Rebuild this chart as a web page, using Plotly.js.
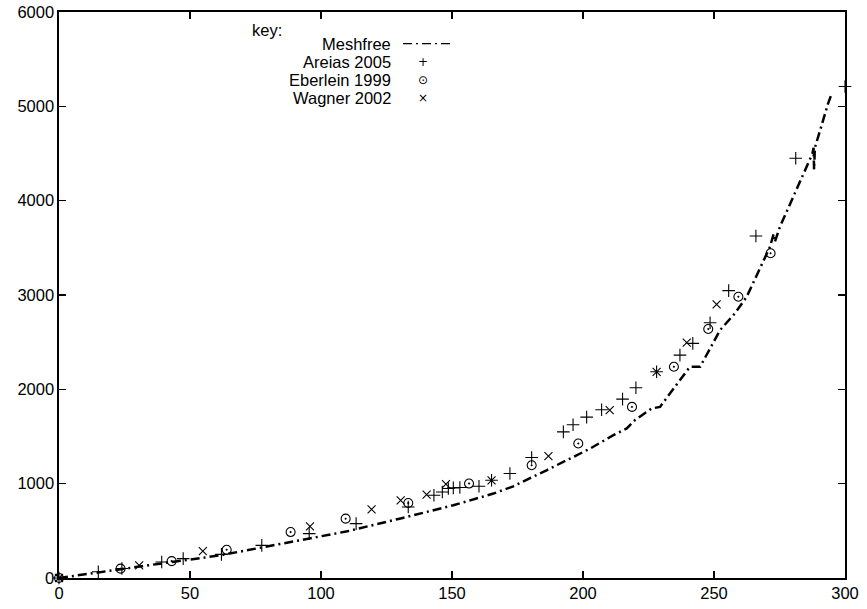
<!DOCTYPE html>
<html>
<head>
<meta charset="utf-8">
<script src="https://cdn.plot.ly/plotly-3.0.1.min.js"></script>
<style>html,body{margin:0;padding:0;background:#fff;}#chart{width:867px;height:609px;}</style>
</head>
<body>
<div id="chart"></div>
<script>
// Meshfree curve
const meshfreeX = [0, 15.6, 38.5, 61.5, 92, 110, 130, 150.5, 165.8, 173.4, 186.1, 197.6, 202.7, 211.6, 216.7, 219.8, 226.2, 229.4, 240.8, 244.7, 252.3, 258, 262.5, 271.4, 272.8, 273.2, 275.2, 287.6, 288, 288.2, 288.5, 293.6, 295];
const meshfreeY = [0, 63, 152, 240, 399, 495, 629, 771, 895, 972, 1142, 1301, 1372, 1514, 1585, 1673, 1797, 1814, 2239, 2239, 2627, 2806, 2982, 3513, 3650, 3560, 3725, 4500, 4560, 4330, 4560, 5035, 5141];

// Areias 2005
const areiasX = [0, 15, 24, 39.2, 47.4, 62, 77.4, 95.5, 113.4, 133.3, 143.1, 146.3, 148.6, 150.5, 153, 160.3, 165.1, 172.1, 180.4, 192.5, 196.2, 201.4, 207.1, 215.1, 220.2, 228.1, 237, 241.9, 248.5, 255.6, 266, 281.2, 300];
const areiasY = [0, 66, 100, 169, 205, 250, 346, 470, 576, 753, 877, 912, 948, 955, 959, 972, 1036, 1107, 1277, 1549, 1625, 1705, 1783, 1896, 2016, 2186, 2363, 2487, 2706, 3046, 3626, 4450, 5210];

// Eberlein 1999
const eberleinX = [0, 23.5, 43, 64, 88.4, 109.4, 133.3, 156.5, 180.4, 198.2, 218.7, 234.7, 247.8, 259.3, 271.6];
const eberleinY = [0, 99, 179, 300, 487, 629, 795, 1001, 1195, 1426, 1814, 2239, 2639, 2982, 3443];

// Wagner 2002
const wagnerX = [0, 30.6, 54.9, 95.8, 119.3, 130.4, 140.3, 147.7, 165.1, 186.8, 210.2, 228.1, 239.6, 251];
const wagnerY = [0, 134, 285, 548, 728, 824, 884, 994, 1036, 1291, 1779, 2186, 2494, 2901];

// tick values
const xTicks = [0, 50, 100, 150, 200, 250, 300];
const yTicks = [0, 1000, 2000, 3000, 4000, 5000, 6000];

const FONT = 'Liberation Sans, Arial, Helvetica, sans-serif';

const traces = [
  {x: meshfreeX, y: meshfreeY, mode: 'lines', name: 'Meshfree',
   line: {color: '#000', width: 2.5, dash: '9px,4px,2px,4px'}, cliponaxis: false},
  {x: areiasX, y: areiasY, mode: 'markers', name: 'Areias 2005',
   marker: {symbol: 'cross-thin', size: 9, color: '#000', line: {color: '#000', width: 1.1}}, cliponaxis: false},
  {x: eberleinX, y: eberleinY, mode: 'markers', name: 'Eberlein 1999',
   marker: {symbol: 'circle-open-dot', size: 9, color: '#000', line: {color: '#000', width: 1.1}}, cliponaxis: false},
  {x: wagnerX, y: wagnerY, mode: 'markers', name: 'Wagner 2002',
   marker: {symbol: 'x-thin', size: 8, color: '#000', line: {color: '#000', width: 1.1}}, cliponaxis: false}
];

const axisCommon = {
  showgrid: false, zeroline: false, showline: true, mirror: 'ticks',
  linecolor: '#000', linewidth: 1.6, ticks: 'inside', ticklen: 7, tickwidth: 1.2, tickcolor: '#000',
  tickfont: {family: FONT, size: 16.5, color: '#000'}
};

// legend drawn gnuplot-style: right-aligned labels followed by sample
const legendLabels = ['Meshfree', 'Areias 2005', 'Eberlein 1999', 'Wagner 2002'];
const legendSymbols = [null, '+', '\u2299', '\u00D7'];
const annotations = [{
  xref: 'paper', yref: 'paper', x: (250 - 59) / 786, y: (578 - 30) / 565.5,
  xanchor: 'left', yanchor: 'middle', text: 'key:', showarrow: false,
  font: {family: FONT, size: 16.5, color: '#000'}
}];
const shapes = [];
legendLabels.forEach((lab, i) => {
  const py = 44 + i * 18;
  annotations.push({
    xref: 'paper', yref: 'paper', x: (393 - 59) / 786, y: (578 - py) / 565.5,
    xanchor: 'right', yanchor: 'middle', text: lab, showarrow: false,
    font: {family: FONT, size: 16.5, color: '#000'}
  });
  if (legendSymbols[i]) {
    annotations.push({
      xref: 'paper', yref: 'paper', x: (422.5 - 59) / 786, y: (578 - py) / 565.5,
      xanchor: 'center', yanchor: 'middle', text: legendSymbols[i], showarrow: false,
      font: {family: 'DejaVu Sans, sans-serif', size: 12, color: '#000'}
    });
  } else {
    shapes.push({
      type: 'line', xref: 'paper', yref: 'paper',
      x0: (403 - 59) / 786, x1: (450 - 59) / 786,
      y0: (578 - py) / 565.5, y1: (578 - py) / 565.5,
      line: {color: '#000', width: 1.2, dash: '9px,4px,2px,4px'}
    });
  }
});

const layout = {
  width: 867, height: 609,
  margin: {l: 59, r: 22, t: 12, b: 31, pad: 0},
  paper_bgcolor: '#fff', plot_bgcolor: '#fff',
  showlegend: false,
  xaxis: Object.assign({}, axisCommon, {range: [0, 300], tickvals: xTicks, ticktext: xTicks.map(String)}),
  yaxis: Object.assign({}, axisCommon, {range: [0, 6000], tickvals: yTicks, ticktext: yTicks.map(String)}),
  annotations: annotations,
  shapes: shapes
};

Plotly.newPlot('chart', traces, layout, {staticPlot: true, displayModeBar: false});
</script>
</body>
</html>
